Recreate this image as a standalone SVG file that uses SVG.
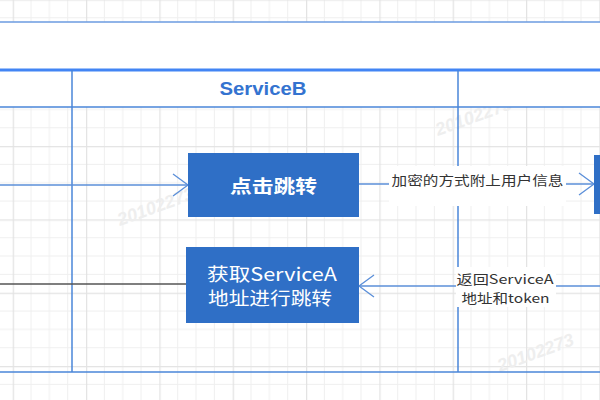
<svg xmlns="http://www.w3.org/2000/svg" width="600" height="400" viewBox="0 0 600 400">
  <style>
    .lane { stroke: #4a86d8; stroke-width: 1.5; fill: none; }
    .box { fill: #2f6fc6; }
    .boxtext { fill: #ffffff; font-family: "Noto Sans CJK SC", "Noto Sans", sans-serif; font-size: 18px; text-anchor: middle; }
    .lbl { fill: #333333; font-family: "Noto Sans CJK SC", "Noto Sans", sans-serif; font-size: 13px; text-anchor: middle; }
    .edge { stroke: #5b8fd9; stroke-width: 1.3; fill: none; }
    .wm { fill: #eeeeee; font-family: "Liberation Sans", sans-serif; font-size: 18px; font-weight: bold; font-style: italic; }
  </style>
  <defs>
    <pattern id="grid" patternUnits="userSpaceOnUse" x="12.7" y="-0.6" width="73.33" height="73.33">
      <path d="M18.33 0V73.33M36.67 0V73.33M55 0V73.33M0 18.33H73.33M0 36.67H73.33M0 55H73.33" stroke="#efefef" stroke-width="1"/>
      <path d="M0.5 0V73.33M0 0.5H73.33" stroke="#e3e3e3" stroke-width="1.5"/>
    </pattern>
    <marker id="open" markerUnits="userSpaceOnUse" markerWidth="20" markerHeight="26" refX="16" refY="12" orient="auto">
      <path d="M1 1L16 12L1 23" fill="none" stroke="#5b8fd9" stroke-width="1.3"/>
    </marker>
  </defs>

  <rect width="600" height="400" fill="#ffffff"/>
  <rect width="600" height="400" fill="url(#grid)"/>

  <!-- watermarks -->
  <text class="wm" transform="translate(438,136) rotate(-20)">20102273</text>
  <text class="wm" transform="translate(120,226) rotate(-20)">20102273</text>
  <text class="wm" transform="translate(500,372) rotate(-20)">20102273</text>

  <!-- pool / lanes -->
  <g id="pool">
    <rect x="0" y="22" width="600" height="85" fill="#ffffff"/>
    <line x1="0" y1="22" x2="600" y2="22" stroke="#6b9be0" stroke-width="1.5"/>
    <line x1="0" y1="70" x2="600" y2="70" stroke="#4285f4" stroke-width="3"/>
    <line x1="0" y1="107" x2="600" y2="107" class="lane"/>
    <line x1="0" y1="372" x2="600" y2="372" class="lane"/>
  </g>
  <g id="lane-serviceB">
    <line x1="72" y1="70" x2="72" y2="372" class="lane"/>
    <line x1="458" y1="70" x2="458" y2="372" class="lane"/>
    <text x="263" y="95" textLength="87" lengthAdjust="spacingAndGlyphs" fill="#3473d0" font-family="Liberation Sans, Arial, sans-serif" font-size="18" font-weight="bold" text-anchor="middle">ServiceB</text>
  </g>

  <!-- connectors -->
  <g id="connectors">
    <line x1="0" y1="185" x2="188" y2="185" class="edge" marker-end="url(#open)"/>
    <line x1="359" y1="184" x2="594" y2="184" class="edge" marker-end="url(#open)"/>
    <line x1="600" y1="286" x2="359" y2="286" class="edge" marker-end="url(#open)"/>
    <line x1="0" y1="284" x2="186" y2="284" stroke="#555555" stroke-width="1.6"/>
    <g id="label-encrypt">
      <rect x="389" y="166" width="177" height="40" fill="#ffffff"/>
      <text class="lbl" x="477.5" y="185" textLength="172" lengthAdjust="spacingAndGlyphs">加密的方式附上用户信息</text>
    </g>
    <g id="label-return">
      <rect x="456" y="267" width="100" height="40" fill="#ffffff"/>
      <text class="lbl" x="505" y="284" textLength="97" lengthAdjust="spacingAndGlyphs">返回ServiceA</text>
      <text class="lbl" x="505.5" y="302.5" textLength="88" lengthAdjust="spacingAndGlyphs">地址和token</text>
    </g>
  </g>

  <!-- nodes -->
  <g id="node-click">
    <rect class="box" x="188" y="153" width="171" height="64"/>
    <text class="boxtext" x="273.5" y="193" font-weight="bold" textLength="87" lengthAdjust="spacingAndGlyphs">点击跳转</text>
  </g>
  <g id="node-get">
    <rect class="box" x="186" y="247" width="173" height="76"/>
    <text class="boxtext" x="272" y="281" font-size="16" textLength="130" lengthAdjust="spacingAndGlyphs">获取ServiceA</text>
    <text class="boxtext" x="270" y="304.5" font-size="16" textLength="124" lengthAdjust="spacingAndGlyphs">地址进行跳转</text>
  </g>
  <g id="node-right">
    <rect class="box" x="594" y="155" width="6" height="59"/>
  </g>
</svg>
